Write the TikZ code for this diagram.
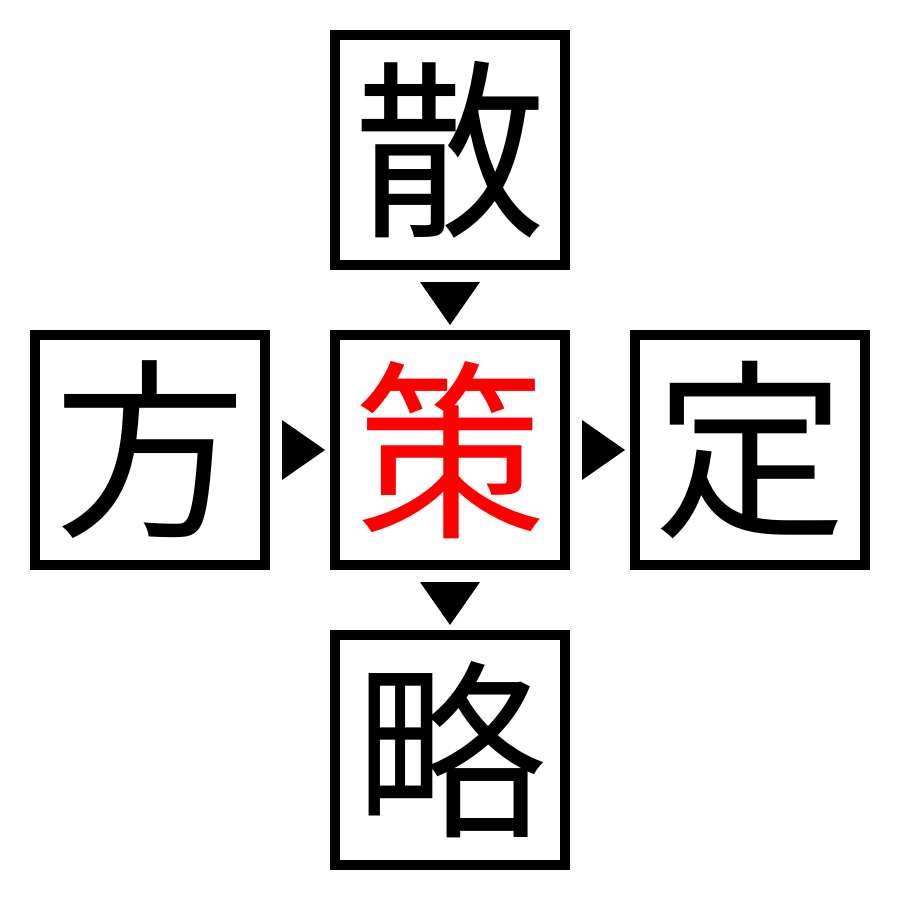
\documentclass[tikz,border=0pt]{standalone}
\usepackage{fontspec}
\newfontfamily\cjk{Noto Sans CJK JP}
\begin{document}
\begin{tikzpicture}[x=1pt,y=-1pt,
  cell/.style={draw=black,line width=10pt,minimum size=230pt,inner sep=0pt,outer sep=5pt,
    font=\cjk\fontsize{192}{192}\selectfont},
  tri/.style={fill=black}]
\useasboundingbox (0,0) rectangle (900,900);
\node[cell] (t) at (450,150) {散};
\node[cell] (l) at (150,450) {方};
\node[cell,text=red] (c) at (450,450) {策};
\node[cell] (r) at (750,450) {定};
\node[cell] (b) at (450,750) {略};
\fill[tri] ([xshift=12pt,yshift=30pt]l.east) -- ([xshift=12pt,yshift=-30pt]l.east) -- ([xshift=55pt]l.east) -- cycle;
\fill[tri] ([xshift=12pt,yshift=30pt]c.east) -- ([xshift=12pt,yshift=-30pt]c.east) -- ([xshift=55pt]c.east) -- cycle;
\fill[tri] ([xshift=-30pt,yshift=-12pt]t.south) -- ([xshift=30pt,yshift=-12pt]t.south) -- ([yshift=-55pt]t.south) -- cycle;
\fill[tri] ([xshift=-30pt,yshift=-12pt]c.south) -- ([xshift=30pt,yshift=-12pt]c.south) -- ([yshift=-55pt]c.south) -- cycle;
\end{tikzpicture}
\end{document}
